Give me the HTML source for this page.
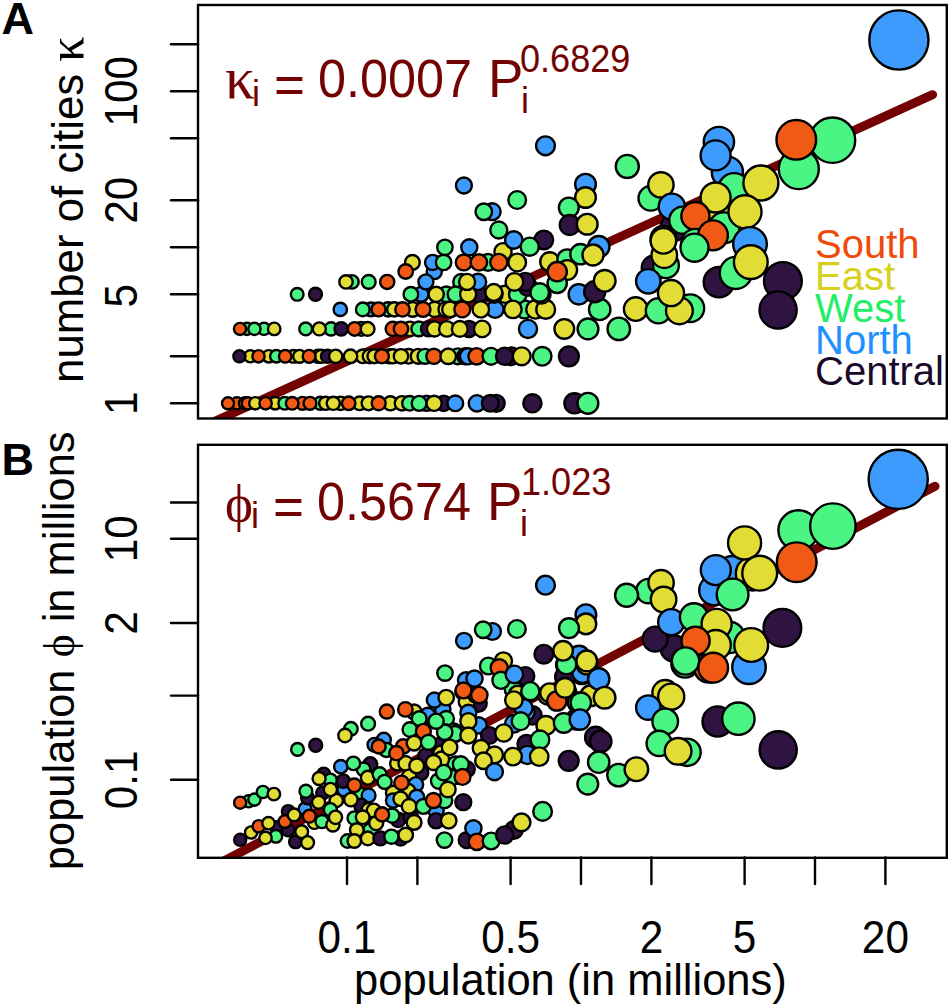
<!DOCTYPE html><html><head><meta charset="utf-8"><style>html,body{margin:0;padding:0;background:#fff;overflow:hidden}svg{display:block}svg text{font-family:"Liberation Sans",sans-serif}</style></head><body><svg width="951" height="1008" viewBox="0 0 951 1008"><text x="1.5" y="33.5" font-size="45" font-weight="bold">A</text><text x="1.5" y="474.5" font-size="45" font-weight="bold">B</text><line x1="171" y1="403.3" x2="198" y2="403.3" stroke="#000" stroke-width="2.4" stroke-linecap="round"/><line x1="171" y1="356.3" x2="198" y2="356.3" stroke="#000" stroke-width="2.4" stroke-linecap="round"/><line x1="171" y1="294.3" x2="198" y2="294.3" stroke="#000" stroke-width="2.4" stroke-linecap="round"/><line x1="171" y1="247.3" x2="198" y2="247.3" stroke="#000" stroke-width="2.4" stroke-linecap="round"/><line x1="171" y1="200.3" x2="198" y2="200.3" stroke="#000" stroke-width="2.4" stroke-linecap="round"/><line x1="171" y1="138.3" x2="198" y2="138.3" stroke="#000" stroke-width="2.4" stroke-linecap="round"/><line x1="171" y1="91.3" x2="198" y2="91.3" stroke="#000" stroke-width="2.4" stroke-linecap="round"/><line x1="171" y1="44.3" x2="198" y2="44.3" stroke="#000" stroke-width="2.4" stroke-linecap="round"/><text transform="translate(136.5,403.3) rotate(-90) scale(0.92,1)" text-anchor="middle" font-size="46">1</text><text transform="translate(136.5,295.8) rotate(-90) scale(0.92,1)" text-anchor="middle" font-size="46">5</text><text transform="translate(136.5,200.3) rotate(-90) scale(0.92,1)" text-anchor="middle" font-size="46">20</text><text transform="translate(136.5,91.3) rotate(-90) scale(0.92,1)" text-anchor="middle" font-size="46">100</text><text transform="translate(83.2,209.7) rotate(-90)" text-anchor="middle" font-size="43.8">number of cities <tspan style='font-family:&quot;Liberation Serif&quot;,serif' font-size="50">κ</tspan></text><line x1="171" y1="779.8" x2="198" y2="779.8" stroke="#000" stroke-width="2.4" stroke-linecap="round"/><line x1="171" y1="695.6" x2="198" y2="695.6" stroke="#000" stroke-width="2.4" stroke-linecap="round"/><line x1="171" y1="623.0" x2="198" y2="623.0" stroke="#000" stroke-width="2.4" stroke-linecap="round"/><line x1="171" y1="538.8" x2="198" y2="538.8" stroke="#000" stroke-width="2.4" stroke-linecap="round"/><line x1="171" y1="502.5" x2="198" y2="502.5" stroke="#000" stroke-width="2.4" stroke-linecap="round"/><text transform="translate(136.5,779.8) rotate(-90) scale(0.92,1)" text-anchor="middle" font-size="46">0.1</text><text transform="translate(136.5,623.0) rotate(-90) scale(0.92,1)" text-anchor="middle" font-size="46">2</text><text transform="translate(136.5,538.8) rotate(-90) scale(0.92,1)" text-anchor="middle" font-size="46">10</text><text transform="translate(74.4,650.8) rotate(-90)" text-anchor="middle" font-size="43.5">population <tspan style='font-family:&quot;Liberation Serif&quot;,serif'>ϕ</tspan> in millions</text><line x1="347.0" y1="857.5" x2="347.0" y2="884" stroke="#000" stroke-width="2.4" stroke-linecap="round"/><line x1="417.4" y1="857.5" x2="417.4" y2="884" stroke="#000" stroke-width="2.4" stroke-linecap="round"/><line x1="510.6" y1="857.5" x2="510.6" y2="884" stroke="#000" stroke-width="2.4" stroke-linecap="round"/><line x1="581.0" y1="857.5" x2="581.0" y2="884" stroke="#000" stroke-width="2.4" stroke-linecap="round"/><line x1="651.4" y1="857.5" x2="651.4" y2="884" stroke="#000" stroke-width="2.4" stroke-linecap="round"/><line x1="744.6" y1="857.5" x2="744.6" y2="884" stroke="#000" stroke-width="2.4" stroke-linecap="round"/><line x1="815.0" y1="857.5" x2="815.0" y2="884" stroke="#000" stroke-width="2.4" stroke-linecap="round"/><line x1="885.4" y1="857.5" x2="885.4" y2="884" stroke="#000" stroke-width="2.4" stroke-linecap="round"/><text transform="translate(347.0,952.8) scale(0.92,1)" text-anchor="middle" font-size="46">0.1</text><text transform="translate(510.6,952.8) scale(0.92,1)" text-anchor="middle" font-size="46">0.5</text><text transform="translate(651.4,952.8) scale(0.92,1)" text-anchor="middle" font-size="46">2</text><text transform="translate(744.6,952.8) scale(0.92,1)" text-anchor="middle" font-size="46">5</text><text transform="translate(885.4,952.8) scale(0.92,1)" text-anchor="middle" font-size="46">20</text><text x="570.4" y="994.8" text-anchor="middle" font-size="43.5">population (in millions)</text><clipPath id="ca"><rect x="198" y="5" width="749" height="413.5"/></clipPath><clipPath id="cb"><rect x="198" y="444.8" width="749" height="413"/></clipPath><g clip-path="url(#ca)"><line x1="205" y1="425.8" x2="932.6" y2="94.7" stroke="#730303" stroke-width="9" stroke-linecap="round"/><circle cx="236.9" cy="403.3" r="6.04" fill="#F05A14" stroke="#000" stroke-width="2.4"/><circle cx="245" cy="403.3" r="6.08" fill="#F05A14" stroke="#000" stroke-width="2.4"/><circle cx="247.8" cy="403.3" r="6.09" fill="#F05A14" stroke="#000" stroke-width="2.4"/><circle cx="255.3" cy="403.3" r="6.13" fill="#E2DD35" stroke="#000" stroke-width="2.4"/><circle cx="275.2" cy="403.3" r="6.24" fill="#E2DD35" stroke="#000" stroke-width="2.4"/><circle cx="284.7" cy="403.3" r="6.29" fill="#4AF584" stroke="#000" stroke-width="2.4"/><circle cx="302.5" cy="403.3" r="6.4" fill="#F05A14" stroke="#000" stroke-width="2.4"/><circle cx="320.3" cy="403.3" r="6.52" fill="#4AF584" stroke="#000" stroke-width="2.4"/><circle cx="325.7" cy="403.3" r="6.56" fill="#E2DD35" stroke="#000" stroke-width="2.4"/><circle cx="340.5" cy="403.3" r="6.67" fill="#E2DD35" stroke="#000" stroke-width="2.4"/><circle cx="359.6" cy="403.3" r="6.82" fill="#E2DD35" stroke="#000" stroke-width="2.4"/><circle cx="368.5" cy="403.3" r="6.9" fill="#E2DD35" stroke="#000" stroke-width="2.4"/><circle cx="390.4" cy="403.3" r="7.1" fill="#E2DD35" stroke="#000" stroke-width="2.4"/><circle cx="402" cy="403.3" r="7.22" fill="#E2DD35" stroke="#000" stroke-width="2.4"/><circle cx="409.5" cy="403.3" r="7.3" fill="#4AF584" stroke="#000" stroke-width="2.4"/><circle cx="426.6" cy="403.3" r="7.49" fill="#3D9BFD" stroke="#000" stroke-width="2.4"/><circle cx="443.7" cy="403.3" r="7.7" fill="#2F1340" stroke="#000" stroke-width="2.4"/><circle cx="496.2" cy="403.3" r="8.47" fill="#2F1340" stroke="#000" stroke-width="2.4"/><circle cx="574.4" cy="403.3" r="10.05" fill="#2F1340" stroke="#000" stroke-width="2.4"/><circle cx="250.3" cy="356.3" r="6.1" fill="#E2DD35" stroke="#000" stroke-width="2.4"/><circle cx="268.7" cy="356.3" r="6.2" fill="#E2DD35" stroke="#000" stroke-width="2.4"/><circle cx="276.3" cy="356.3" r="6.24" fill="#4AF584" stroke="#000" stroke-width="2.4"/><circle cx="293.4" cy="356.3" r="6.34" fill="#E2DD35" stroke="#000" stroke-width="2.4"/><circle cx="299.5" cy="356.3" r="6.38" fill="#E2DD35" stroke="#000" stroke-width="2.4"/><circle cx="318" cy="356.3" r="6.5" fill="#E2DD35" stroke="#000" stroke-width="2.4"/><circle cx="321.4" cy="356.3" r="6.52" fill="#E2DD35" stroke="#000" stroke-width="2.4"/><circle cx="327.5" cy="356.3" r="6.57" fill="#2F1340" stroke="#000" stroke-width="2.4"/><circle cx="362.8" cy="356.3" r="6.85" fill="#E2DD35" stroke="#000" stroke-width="2.4"/><circle cx="369.6" cy="356.3" r="6.91" fill="#E2DD35" stroke="#000" stroke-width="2.4"/><circle cx="374.4" cy="356.3" r="6.95" fill="#E2DD35" stroke="#000" stroke-width="2.4"/><circle cx="389.4" cy="356.3" r="7.09" fill="#4AF584" stroke="#000" stroke-width="2.4"/><circle cx="392.8" cy="356.3" r="7.12" fill="#E2DD35" stroke="#000" stroke-width="2.4"/><circle cx="408.6" cy="356.3" r="7.29" fill="#E2DD35" stroke="#000" stroke-width="2.4"/><circle cx="418.1" cy="356.3" r="7.39" fill="#E2DD35" stroke="#000" stroke-width="2.4"/><circle cx="425" cy="356.3" r="7.47" fill="#4AF584" stroke="#000" stroke-width="2.4"/><circle cx="457.8" cy="356.3" r="7.89" fill="#4AF584" stroke="#000" stroke-width="2.4"/><circle cx="465.3" cy="356.3" r="7.99" fill="#2F1340" stroke="#000" stroke-width="2.4"/><circle cx="468" cy="356.3" r="8.03" fill="#3D9BFD" stroke="#000" stroke-width="2.4"/><circle cx="511.5" cy="356.3" r="8.73" fill="#2F1340" stroke="#000" stroke-width="2.4"/><circle cx="246.9" cy="328.9" r="6.09" fill="#4AF584" stroke="#000" stroke-width="2.4"/><circle cx="264" cy="328.9" r="6.17" fill="#4AF584" stroke="#000" stroke-width="2.4"/><circle cx="331" cy="328.9" r="6.59" fill="#4AF584" stroke="#000" stroke-width="2.4"/><circle cx="341.2" cy="328.9" r="6.67" fill="#2F1340" stroke="#000" stroke-width="2.4"/><circle cx="361.4" cy="328.9" r="6.83" fill="#4AF584" stroke="#000" stroke-width="2.4"/><circle cx="392.8" cy="328.9" r="7.12" fill="#F05A14" stroke="#000" stroke-width="2.4"/><circle cx="410" cy="328.9" r="7.3" fill="#E2DD35" stroke="#000" stroke-width="2.4"/><circle cx="418.8" cy="328.9" r="7.4" fill="#4AF584" stroke="#000" stroke-width="2.4"/><circle cx="428.5" cy="328.9" r="7.51" fill="#2F1340" stroke="#000" stroke-width="2.4"/><circle cx="469" cy="328.9" r="8.05" fill="#2F1340" stroke="#000" stroke-width="2.4"/><circle cx="371" cy="309.4" r="6.92" fill="#3D9BFD" stroke="#000" stroke-width="2.4"/><circle cx="388.1" cy="309.4" r="7.08" fill="#4AF584" stroke="#000" stroke-width="2.4"/><circle cx="394.3" cy="309.4" r="7.14" fill="#E2DD35" stroke="#000" stroke-width="2.4"/><circle cx="412.7" cy="309.4" r="7.33" fill="#E2DD35" stroke="#000" stroke-width="2.4"/><circle cx="434.6" cy="309.4" r="7.59" fill="#E2DD35" stroke="#000" stroke-width="2.4"/><circle cx="446.2" cy="309.4" r="7.73" fill="#E2DD35" stroke="#000" stroke-width="2.4"/><circle cx="450" cy="309.4" r="7.78" fill="#E2DD35" stroke="#000" stroke-width="2.4"/><circle cx="495.1" cy="309.4" r="8.45" fill="#3D9BFD" stroke="#000" stroke-width="2.4"/><circle cx="524.5" cy="309.4" r="8.97" fill="#4AF584" stroke="#000" stroke-width="2.4"/><circle cx="535.4" cy="309.4" r="9.18" fill="#E2DD35" stroke="#000" stroke-width="2.4"/><circle cx="421" cy="294.3" r="7.43" fill="#3D9BFD" stroke="#000" stroke-width="2.4"/><circle cx="446.3" cy="294.3" r="7.73" fill="#4AF584" stroke="#000" stroke-width="2.4"/><circle cx="479.1" cy="294.3" r="8.2" fill="#2F1340" stroke="#000" stroke-width="2.4"/><circle cx="505.1" cy="294.3" r="8.62" fill="#E2DD35" stroke="#000" stroke-width="2.4"/><circle cx="517.8" cy="294.3" r="8.84" fill="#4AF584" stroke="#000" stroke-width="2.4"/><circle cx="527.9" cy="286.8" r="9.04" fill="#2F1340" stroke="#000" stroke-width="2.4"/><circle cx="351.9" cy="281.9" r="6.76" fill="#4AF584" stroke="#000" stroke-width="2.4"/><circle cx="461.2" cy="281.9" r="7.93" fill="#4AF584" stroke="#000" stroke-width="2.4"/><circle cx="478" cy="281.9" r="8.18" fill="#3D9BFD" stroke="#000" stroke-width="2.4"/><circle cx="525.3" cy="281.9" r="8.99" fill="#2F1340" stroke="#000" stroke-width="2.4"/><circle cx="434.3" cy="271.5" r="7.58" fill="#3D9BFD" stroke="#000" stroke-width="2.4"/><circle cx="412.4" cy="262.4" r="7.33" fill="#E2DD35" stroke="#000" stroke-width="2.4"/><circle cx="432.6" cy="262.4" r="7.56" fill="#3D9BFD" stroke="#000" stroke-width="2.4"/><circle cx="503" cy="251.7" r="8.58" fill="#E2DD35" stroke="#000" stroke-width="2.4"/><circle cx="488" cy="262.4" r="8.33" fill="#4AF584" stroke="#000" stroke-width="2.4"/><circle cx="228" cy="403.3" r="6.0" fill="#F05A14" stroke="#000" stroke-width="2.4"/><circle cx="265.6" cy="403.3" r="6.18" fill="#F05A14" stroke="#000" stroke-width="2.4"/><circle cx="292.2" cy="403.3" r="6.33" fill="#F05A14" stroke="#000" stroke-width="2.4"/><circle cx="310" cy="403.3" r="6.45" fill="#F05A14" stroke="#000" stroke-width="2.4"/><circle cx="333.3" cy="403.3" r="6.61" fill="#E2DD35" stroke="#000" stroke-width="2.4"/><circle cx="348.7" cy="403.3" r="6.73" fill="#F05A14" stroke="#000" stroke-width="2.4"/><circle cx="378.7" cy="403.3" r="6.99" fill="#F05A14" stroke="#000" stroke-width="2.4"/><circle cx="419.1" cy="403.3" r="7.4" fill="#4AF584" stroke="#000" stroke-width="2.4"/><circle cx="434.1" cy="403.3" r="7.58" fill="#E2DD35" stroke="#000" stroke-width="2.4"/><circle cx="455.3" cy="403.3" r="7.85" fill="#3D9BFD" stroke="#000" stroke-width="2.4"/><circle cx="476.9" cy="403.3" r="8.16" fill="#3D9BFD" stroke="#000" stroke-width="2.4"/><circle cx="490.3" cy="403.3" r="8.37" fill="#2F1340" stroke="#000" stroke-width="2.4"/><circle cx="532.4" cy="403.3" r="9.12" fill="#2F1340" stroke="#000" stroke-width="2.4"/><circle cx="587.9" cy="403.3" r="10.39" fill="#4AF584" stroke="#000" stroke-width="2.4"/><circle cx="239.4" cy="356.3" r="6.05" fill="#2F1340" stroke="#000" stroke-width="2.4"/><circle cx="258.5" cy="356.3" r="6.15" fill="#F05A14" stroke="#000" stroke-width="2.4"/><circle cx="285.2" cy="356.3" r="6.29" fill="#F05A14" stroke="#000" stroke-width="2.4"/><circle cx="309.1" cy="356.3" r="6.44" fill="#F05A14" stroke="#000" stroke-width="2.4"/><circle cx="335.7" cy="356.3" r="6.63" fill="#E2DD35" stroke="#000" stroke-width="2.4"/><circle cx="350.5" cy="356.3" r="6.74" fill="#E2DD35" stroke="#000" stroke-width="2.4"/><circle cx="381.9" cy="356.3" r="7.02" fill="#F05A14" stroke="#000" stroke-width="2.4"/><circle cx="401" cy="356.3" r="7.21" fill="#E2DD35" stroke="#000" stroke-width="2.4"/><circle cx="433.9" cy="356.3" r="7.58" fill="#F05A14" stroke="#000" stroke-width="2.4"/><circle cx="448.2" cy="356.3" r="7.76" fill="#E2DD35" stroke="#000" stroke-width="2.4"/><circle cx="476.6" cy="356.3" r="8.16" fill="#F05A14" stroke="#000" stroke-width="2.4"/><circle cx="491" cy="356.3" r="8.38" fill="#4AF584" stroke="#000" stroke-width="2.4"/><circle cx="504.6" cy="356.3" r="8.61" fill="#2F1340" stroke="#000" stroke-width="2.4"/><circle cx="521.7" cy="356.3" r="8.92" fill="#E2DD35" stroke="#000" stroke-width="2.4"/><circle cx="542.2" cy="356.3" r="9.32" fill="#4AF584" stroke="#000" stroke-width="2.4"/><circle cx="568.9" cy="356.3" r="9.91" fill="#2F1340" stroke="#000" stroke-width="2.4"/><circle cx="240" cy="328.9" r="6.05" fill="#F05A14" stroke="#000" stroke-width="2.4"/><circle cx="254.4" cy="328.9" r="6.12" fill="#4AF584" stroke="#000" stroke-width="2.4"/><circle cx="274.2" cy="328.9" r="6.23" fill="#E2DD35" stroke="#000" stroke-width="2.4"/><circle cx="305.7" cy="328.9" r="6.42" fill="#4AF584" stroke="#000" stroke-width="2.4"/><circle cx="319.3" cy="328.9" r="6.51" fill="#E2DD35" stroke="#000" stroke-width="2.4"/><circle cx="354.6" cy="328.9" r="6.78" fill="#F05A14" stroke="#000" stroke-width="2.4"/><circle cx="367.6" cy="328.9" r="6.89" fill="#E2DD35" stroke="#000" stroke-width="2.4"/><circle cx="401" cy="328.9" r="7.21" fill="#F05A14" stroke="#000" stroke-width="2.4"/><circle cx="434.5" cy="328.9" r="7.59" fill="#E2DD35" stroke="#000" stroke-width="2.4"/><circle cx="446.8" cy="328.9" r="7.74" fill="#E2DD35" stroke="#000" stroke-width="2.4"/><circle cx="459.8" cy="328.9" r="7.91" fill="#E2DD35" stroke="#000" stroke-width="2.4"/><circle cx="482.2" cy="328.9" r="8.24" fill="#E2DD35" stroke="#000" stroke-width="2.4"/><circle cx="528" cy="328.9" r="9.04" fill="#3D9BFD" stroke="#000" stroke-width="2.4"/><circle cx="564.3" cy="328.9" r="9.81" fill="#E2DD35" stroke="#000" stroke-width="2.4"/><circle cx="588" cy="328.9" r="10.39" fill="#4AF584" stroke="#000" stroke-width="2.4"/><circle cx="618.8" cy="328.9" r="11.25" fill="#4AF584" stroke="#000" stroke-width="2.4"/><circle cx="340.3" cy="309.4" r="6.66" fill="#3D9BFD" stroke="#000" stroke-width="2.4"/><circle cx="362.8" cy="309.4" r="6.85" fill="#4AF584" stroke="#000" stroke-width="2.4"/><circle cx="378.5" cy="309.4" r="6.99" fill="#F05A14" stroke="#000" stroke-width="2.4"/><circle cx="402.5" cy="309.4" r="7.22" fill="#F05A14" stroke="#000" stroke-width="2.4"/><circle cx="423" cy="309.4" r="7.45" fill="#F05A14" stroke="#000" stroke-width="2.4"/><circle cx="462.3" cy="309.4" r="7.95" fill="#F05A14" stroke="#000" stroke-width="2.4"/><circle cx="480.8" cy="309.4" r="8.22" fill="#E2DD35" stroke="#000" stroke-width="2.4"/><circle cx="512.9" cy="309.4" r="8.76" fill="#E2DD35" stroke="#000" stroke-width="2.4"/><circle cx="545.7" cy="309.4" r="9.4" fill="#E2DD35" stroke="#000" stroke-width="2.4"/><circle cx="599.7" cy="309.4" r="10.7" fill="#4AF584" stroke="#000" stroke-width="2.4"/><circle cx="297.2" cy="294.3" r="6.36" fill="#4AF584" stroke="#000" stroke-width="2.4"/><circle cx="315.5" cy="294.3" r="6.48" fill="#2F1340" stroke="#000" stroke-width="2.4"/><circle cx="410.9" cy="294.3" r="7.31" fill="#4AF584" stroke="#000" stroke-width="2.4"/><circle cx="436.2" cy="294.3" r="7.61" fill="#E2DD35" stroke="#000" stroke-width="2.4"/><circle cx="455.5" cy="294.3" r="7.86" fill="#4AF584" stroke="#000" stroke-width="2.4"/><circle cx="468.1" cy="294.3" r="8.03" fill="#E2DD35" stroke="#000" stroke-width="2.4"/><circle cx="494.2" cy="294.3" r="8.43" fill="#E2DD35" stroke="#000" stroke-width="2.4"/><circle cx="541.3" cy="294.3" r="9.3" fill="#4AF584" stroke="#000" stroke-width="2.4"/><circle cx="578.8" cy="294.3" r="10.16" fill="#3D9BFD" stroke="#000" stroke-width="2.4"/><circle cx="346" cy="281.9" r="6.71" fill="#E2DD35" stroke="#000" stroke-width="2.4"/><circle cx="368.7" cy="281.9" r="6.9" fill="#4AF584" stroke="#000" stroke-width="2.4"/><circle cx="387.2" cy="281.9" r="7.07" fill="#F05A14" stroke="#000" stroke-width="2.4"/><circle cx="425.9" cy="281.9" r="7.48" fill="#3D9BFD" stroke="#000" stroke-width="2.4"/><circle cx="467.1" cy="281.9" r="8.02" fill="#E2DD35" stroke="#000" stroke-width="2.4"/><circle cx="514.4" cy="281.9" r="8.78" fill="#E2DD35" stroke="#000" stroke-width="2.4"/><circle cx="405.7" cy="271.5" r="7.26" fill="#F05A14" stroke="#000" stroke-width="2.4"/><circle cx="443.6" cy="262.4" r="7.7" fill="#4AF584" stroke="#000" stroke-width="2.4"/><circle cx="463.8" cy="262.4" r="7.97" fill="#F05A14" stroke="#000" stroke-width="2.4"/><circle cx="478.9" cy="262.4" r="8.19" fill="#F05A14" stroke="#000" stroke-width="2.4"/><circle cx="498.8" cy="262.4" r="8.51" fill="#F05A14" stroke="#000" stroke-width="2.4"/><circle cx="545.5" cy="145.8" r="9.39" fill="#3D9BFD" stroke="#000" stroke-width="2.4"/><circle cx="585.5" cy="184.2" r="10.32" fill="#3D9BFD" stroke="#000" stroke-width="2.4"/><circle cx="585.5" cy="197.5" r="10.32" fill="#E2DD35" stroke="#000" stroke-width="2.4"/><circle cx="568.8" cy="207.5" r="9.91" fill="#4AF584" stroke="#000" stroke-width="2.4"/><circle cx="569.7" cy="225" r="9.93" fill="#2F1340" stroke="#000" stroke-width="2.4"/><circle cx="587.2" cy="224.2" r="10.37" fill="#E2DD35" stroke="#000" stroke-width="2.4"/><circle cx="517.2" cy="200" r="8.83" fill="#4AF584" stroke="#000" stroke-width="2.4"/><circle cx="492.2" cy="211.7" r="8.4" fill="#3D9BFD" stroke="#000" stroke-width="2.4"/><circle cx="483.8" cy="211.7" r="8.27" fill="#4AF584" stroke="#000" stroke-width="2.4"/><circle cx="498.8" cy="230" r="8.51" fill="#4AF584" stroke="#000" stroke-width="2.4"/><circle cx="513.8" cy="240" r="8.77" fill="#3D9BFD" stroke="#000" stroke-width="2.4"/><circle cx="543.8" cy="240" r="9.36" fill="#2F1340" stroke="#000" stroke-width="2.4"/><circle cx="529.7" cy="246.7" r="9.07" fill="#4AF584" stroke="#000" stroke-width="2.4"/><circle cx="517.2" cy="262.5" r="8.83" fill="#E2DD35" stroke="#000" stroke-width="2.4"/><circle cx="549.7" cy="261.7" r="9.48" fill="#E2DD35" stroke="#000" stroke-width="2.4"/><circle cx="567.2" cy="259.2" r="9.87" fill="#4AF584" stroke="#000" stroke-width="2.4"/><circle cx="567.2" cy="270" r="9.87" fill="#E2DD35" stroke="#000" stroke-width="2.4"/><circle cx="557.2" cy="283.3" r="9.65" fill="#4AF584" stroke="#000" stroke-width="2.4"/><circle cx="557.2" cy="271.7" r="9.65" fill="#F05A14" stroke="#000" stroke-width="2.4"/><circle cx="580.5" cy="254.2" r="10.2" fill="#4AF584" stroke="#000" stroke-width="2.4"/><circle cx="598.8" cy="246.7" r="10.68" fill="#3D9BFD" stroke="#000" stroke-width="2.4"/><circle cx="593" cy="255" r="10.52" fill="#E2DD35" stroke="#000" stroke-width="2.4"/><circle cx="594.7" cy="291.7" r="10.57" fill="#2F1340" stroke="#000" stroke-width="2.4"/><circle cx="604.7" cy="280.8" r="10.84" fill="#E2DD35" stroke="#000" stroke-width="2.4"/><circle cx="493.8" cy="292.5" r="8.43" fill="#E2DD35" stroke="#000" stroke-width="2.4"/><circle cx="539.7" cy="292.5" r="9.27" fill="#4AF584" stroke="#000" stroke-width="2.4"/><circle cx="463.9" cy="185.5" r="7.97" fill="#3D9BFD" stroke="#000" stroke-width="2.4"/><circle cx="444.9" cy="247.3" r="7.72" fill="#4AF584" stroke="#000" stroke-width="2.4"/><circle cx="469.3" cy="247.3" r="8.05" fill="#3D9BFD" stroke="#000" stroke-width="2.4"/><circle cx="627.3" cy="166.4" r="11.52" fill="#4AF584" stroke="#000" stroke-width="2.4"/><circle cx="727.4" cy="172.2" r="15.6" fill="#3D9BFD" stroke="#000" stroke-width="2.4"/><circle cx="718.9" cy="142" r="15.17" fill="#3D9BFD" stroke="#000" stroke-width="2.4"/><circle cx="715.6" cy="155.4" r="15.01" fill="#3D9BFD" stroke="#000" stroke-width="2.4"/><circle cx="650.8" cy="198.3" r="12.3" fill="#4AF584" stroke="#000" stroke-width="2.4"/><circle cx="660.9" cy="184.9" r="12.67" fill="#E2DD35" stroke="#000" stroke-width="2.4"/><circle cx="673.5" cy="227.8" r="13.16" fill="#2F1340" stroke="#000" stroke-width="2.4"/><circle cx="671.8" cy="206.7" r="13.09" fill="#3D9BFD" stroke="#000" stroke-width="2.4"/><circle cx="682.8" cy="220.2" r="13.53" fill="#4AF584" stroke="#000" stroke-width="2.4"/><circle cx="734.1" cy="189.1" r="15.95" fill="#4AF584" stroke="#000" stroke-width="2.4"/><circle cx="719" cy="214.3" r="15.18" fill="#E2DD35" stroke="#000" stroke-width="2.4"/><circle cx="724" cy="227.8" r="15.43" fill="#4AF584" stroke="#000" stroke-width="2.4"/><circle cx="715.6" cy="197.5" r="15.01" fill="#E2DD35" stroke="#000" stroke-width="2.4"/><circle cx="760.9" cy="183" r="17.48" fill="#E2DD35" stroke="#000" stroke-width="2.4"/><circle cx="745" cy="211.8" r="16.55" fill="#E2DD35" stroke="#000" stroke-width="2.4"/><circle cx="695.4" cy="216" r="14.07" fill="#F05A14" stroke="#000" stroke-width="2.4"/><circle cx="695.4" cy="242.9" r="14.07" fill="#4AF584" stroke="#000" stroke-width="2.4"/><circle cx="713" cy="235.3" r="14.88" fill="#F05A14" stroke="#000" stroke-width="2.4"/><circle cx="663.4" cy="238.7" r="12.76" fill="#E2DD35" stroke="#000" stroke-width="2.4"/><circle cx="635.7" cy="309.1" r="11.79" fill="#E2DD35" stroke="#000" stroke-width="2.4"/><circle cx="690.3" cy="308.2" r="13.85" fill="#4AF584" stroke="#000" stroke-width="2.4"/><circle cx="658.4" cy="310.8" r="12.58" fill="#4AF584" stroke="#000" stroke-width="2.4"/><circle cx="679.4" cy="310.8" r="13.39" fill="#E2DD35" stroke="#000" stroke-width="2.4"/><circle cx="671" cy="293.1" r="13.06" fill="#E2DD35" stroke="#000" stroke-width="2.4"/><circle cx="654.2" cy="267.9" r="12.43" fill="#2F1340" stroke="#000" stroke-width="2.4"/><circle cx="666" cy="265.3" r="12.86" fill="#4AF584" stroke="#000" stroke-width="2.4"/><circle cx="648.3" cy="281.3" r="12.22" fill="#3D9BFD" stroke="#000" stroke-width="2.4"/><circle cx="664.3" cy="255.2" r="12.8" fill="#E2DD35" stroke="#000" stroke-width="2.4"/><circle cx="663.4" cy="240.9" r="12.76" fill="#E2DD35" stroke="#000" stroke-width="2.4"/><circle cx="694.5" cy="247.7" r="14.03" fill="#4AF584" stroke="#000" stroke-width="2.4"/><circle cx="718.9" cy="282.2" r="15.17" fill="#2F1340" stroke="#000" stroke-width="2.4"/><circle cx="735.8" cy="272.9" r="16.04" fill="#4AF584" stroke="#000" stroke-width="2.4"/><circle cx="750" cy="244" r="16.84" fill="#3D9BFD" stroke="#000" stroke-width="2.4"/><circle cx="750.8" cy="262.1" r="16.88" fill="#E2DD35" stroke="#000" stroke-width="2.4"/><circle cx="782.9" cy="281" r="18.9" fill="#2F1340" stroke="#000" stroke-width="2.4"/><circle cx="778.1" cy="310" r="18.58" fill="#2F1340" stroke="#000" stroke-width="2.4"/><circle cx="798.8" cy="169.1" r="20.02" fill="#4AF584" stroke="#000" stroke-width="2.4"/><circle cx="832.5" cy="140.2" r="22.71" fill="#4AF584" stroke="#000" stroke-width="2.4"/><circle cx="796.3" cy="139.8" r="19.84" fill="#F05A14" stroke="#000" stroke-width="2.4"/><circle cx="898.9" cy="40" r="29.6" fill="#3D9BFD" stroke="#000" stroke-width="2.4"/></g><g clip-path="url(#cb)"><line x1="210" y1="868.3" x2="935" y2="486.3" stroke="#730303" stroke-width="9" stroke-linecap="round"/><circle cx="248.6" cy="801.3" r="6.1" fill="#4AF584" stroke="#000" stroke-width="2.4"/><circle cx="276.4" cy="827.5" r="6.24" fill="#2F1340" stroke="#000" stroke-width="2.4"/><circle cx="288.2" cy="811.4" r="6.31" fill="#2F1340" stroke="#000" stroke-width="2.4"/><circle cx="305.1" cy="808.9" r="6.41" fill="#3D9BFD" stroke="#000" stroke-width="2.4"/><circle cx="314.4" cy="822.4" r="6.48" fill="#E2DD35" stroke="#000" stroke-width="2.4"/><circle cx="322" cy="821.6" r="6.53" fill="#4AF584" stroke="#000" stroke-width="2.4"/><circle cx="307.6" cy="797.9" r="6.43" fill="#2F1340" stroke="#000" stroke-width="2.4"/><circle cx="323.7" cy="774.3" r="6.54" fill="#2F1340" stroke="#000" stroke-width="2.4"/><circle cx="330.4" cy="780.2" r="6.59" fill="#4AF584" stroke="#000" stroke-width="2.4"/><circle cx="322.8" cy="792.9" r="6.53" fill="#2F1340" stroke="#000" stroke-width="2.4"/><circle cx="332.9" cy="824.9" r="6.61" fill="#E2DD35" stroke="#000" stroke-width="2.4"/><circle cx="336.3" cy="800.5" r="6.63" fill="#E2DD35" stroke="#000" stroke-width="2.4"/><circle cx="442.8" cy="709.4" r="7.69" fill="#3D9BFD" stroke="#000" stroke-width="2.4"/><circle cx="414.1" cy="711.9" r="7.35" fill="#E2DD35" stroke="#000" stroke-width="2.4"/><circle cx="427.6" cy="715.3" r="7.5" fill="#3D9BFD" stroke="#000" stroke-width="2.4"/><circle cx="446.2" cy="718.7" r="7.73" fill="#4AF584" stroke="#000" stroke-width="2.4"/><circle cx="446.2" cy="732.2" r="7.73" fill="#4AF584" stroke="#000" stroke-width="2.4"/><circle cx="453.8" cy="731.3" r="7.83" fill="#4AF584" stroke="#000" stroke-width="2.4"/><circle cx="383.8" cy="739.8" r="7.04" fill="#3D9BFD" stroke="#000" stroke-width="2.4"/><circle cx="374.5" cy="744.8" r="6.95" fill="#3D9BFD" stroke="#000" stroke-width="2.4"/><circle cx="386.3" cy="749.9" r="7.06" fill="#4AF584" stroke="#000" stroke-width="2.4"/><circle cx="403.2" cy="746.5" r="7.23" fill="#F05A14" stroke="#000" stroke-width="2.4"/><circle cx="437.7" cy="745.7" r="7.62" fill="#2F1340" stroke="#000" stroke-width="2.4"/><circle cx="425.9" cy="755.8" r="7.48" fill="#2F1340" stroke="#000" stroke-width="2.4"/><circle cx="441.1" cy="753.2" r="7.67" fill="#E2DD35" stroke="#000" stroke-width="2.4"/><circle cx="370.3" cy="764.2" r="6.91" fill="#2F1340" stroke="#000" stroke-width="2.4"/><circle cx="363.5" cy="769.3" r="6.85" fill="#4AF584" stroke="#000" stroke-width="2.4"/><circle cx="397.3" cy="763.4" r="7.17" fill="#E2DD35" stroke="#000" stroke-width="2.4"/><circle cx="405.7" cy="763.4" r="7.26" fill="#E2DD35" stroke="#000" stroke-width="2.4"/><circle cx="420.9" cy="772.6" r="7.42" fill="#2F1340" stroke="#000" stroke-width="2.4"/><circle cx="455.5" cy="764.2" r="7.86" fill="#4AF584" stroke="#000" stroke-width="2.4"/><circle cx="409.1" cy="776.9" r="7.29" fill="#E2DD35" stroke="#000" stroke-width="2.4"/><circle cx="415.8" cy="784.5" r="7.37" fill="#3D9BFD" stroke="#000" stroke-width="2.4"/><circle cx="438.6" cy="781.1" r="7.64" fill="#4AF584" stroke="#000" stroke-width="2.4"/><circle cx="456.3" cy="776" r="7.87" fill="#F05A14" stroke="#000" stroke-width="2.4"/><circle cx="344.1" cy="789.5" r="6.69" fill="#3D9BFD" stroke="#000" stroke-width="2.4"/><circle cx="361" cy="794.6" r="6.83" fill="#4AF584" stroke="#000" stroke-width="2.4"/><circle cx="368.6" cy="795.4" r="6.9" fill="#3D9BFD" stroke="#000" stroke-width="2.4"/><circle cx="361" cy="805.5" r="6.83" fill="#2F1340" stroke="#000" stroke-width="2.4"/><circle cx="393.1" cy="792.9" r="7.13" fill="#E2DD35" stroke="#000" stroke-width="2.4"/><circle cx="408.2" cy="791.2" r="7.28" fill="#E2DD35" stroke="#000" stroke-width="2.4"/><circle cx="416.7" cy="797.1" r="7.38" fill="#3D9BFD" stroke="#000" stroke-width="2.4"/><circle cx="393.1" cy="800.5" r="7.13" fill="#3D9BFD" stroke="#000" stroke-width="2.4"/><circle cx="436.1" cy="810.6" r="7.61" fill="#3D9BFD" stroke="#000" stroke-width="2.4"/><circle cx="444.5" cy="800.5" r="7.71" fill="#4AF584" stroke="#000" stroke-width="2.4"/><circle cx="368.6" cy="809.7" r="6.9" fill="#E2DD35" stroke="#000" stroke-width="2.4"/><circle cx="373.7" cy="810.6" r="6.94" fill="#E2DD35" stroke="#000" stroke-width="2.4"/><circle cx="354.3" cy="818.2" r="6.78" fill="#4AF584" stroke="#000" stroke-width="2.4"/><circle cx="398.1" cy="819.9" r="7.18" fill="#2F1340" stroke="#000" stroke-width="2.4"/><circle cx="410.8" cy="817.3" r="7.31" fill="#2F1340" stroke="#000" stroke-width="2.4"/><circle cx="370.3" cy="830" r="6.91" fill="#4AF584" stroke="#000" stroke-width="2.4"/><circle cx="400.6" cy="838.4" r="7.2" fill="#2F1340" stroke="#000" stroke-width="2.4"/><circle cx="463.3" cy="691.7" r="7.96" fill="#F05A14" stroke="#000" stroke-width="2.4"/><circle cx="478.5" cy="703.5" r="8.19" fill="#2F1340" stroke="#000" stroke-width="2.4"/><circle cx="466.7" cy="701.8" r="8.01" fill="#E2DD35" stroke="#000" stroke-width="2.4"/><circle cx="468.4" cy="712.8" r="8.04" fill="#3D9BFD" stroke="#000" stroke-width="2.4"/><circle cx="478.5" cy="725.4" r="8.19" fill="#3D9BFD" stroke="#000" stroke-width="2.4"/><circle cx="454.9" cy="733.9" r="7.85" fill="#4AF584" stroke="#000" stroke-width="2.4"/><circle cx="444.7" cy="732.2" r="7.71" fill="#4AF584" stroke="#000" stroke-width="2.4"/><circle cx="441.4" cy="759.2" r="7.67" fill="#E2DD35" stroke="#000" stroke-width="2.4"/><circle cx="532.5" cy="715.3" r="9.13" fill="#2F1340" stroke="#000" stroke-width="2.4"/><circle cx="525.7" cy="711.9" r="8.99" fill="#3D9BFD" stroke="#000" stroke-width="2.4"/><circle cx="513.9" cy="723.7" r="8.77" fill="#3D9BFD" stroke="#000" stroke-width="2.4"/><circle cx="529.1" cy="692.5" r="9.06" fill="#4AF584" stroke="#000" stroke-width="2.4"/><circle cx="547.6" cy="695.1" r="9.44" fill="#E2DD35" stroke="#000" stroke-width="2.4"/><circle cx="566.2" cy="691.7" r="9.85" fill="#E2DD35" stroke="#000" stroke-width="2.4"/><circle cx="576.3" cy="719.5" r="10.09" fill="#3D9BFD" stroke="#000" stroke-width="2.4"/><circle cx="578" cy="702.6" r="10.14" fill="#4AF584" stroke="#000" stroke-width="2.4"/><circle cx="526.5" cy="744" r="9.01" fill="#2F1340" stroke="#000" stroke-width="2.4"/><circle cx="466.7" cy="769.3" r="8.01" fill="#2F1340" stroke="#000" stroke-width="2.4"/><circle cx="451.5" cy="777.7" r="7.8" fill="#4AF584" stroke="#000" stroke-width="2.4"/><circle cx="466.7" cy="840.1" r="8.01" fill="#2F1340" stroke="#000" stroke-width="2.4"/><circle cx="513.9" cy="830" r="8.77" fill="#2F1340" stroke="#000" stroke-width="2.4"/><circle cx="565.9" cy="665" r="9.84" fill="#4AF584" stroke="#000" stroke-width="2.4"/><circle cx="581.8" cy="673.9" r="10.23" fill="#3D9BFD" stroke="#000" stroke-width="2.4"/><circle cx="565" cy="676.9" r="9.82" fill="#2F1340" stroke="#000" stroke-width="2.4"/><circle cx="590.8" cy="695.7" r="10.46" fill="#E2DD35" stroke="#000" stroke-width="2.4"/><circle cx="595.7" cy="737.4" r="10.59" fill="#2F1340" stroke="#000" stroke-width="2.4"/><circle cx="665.2" cy="692.8" r="12.83" fill="#E2DD35" stroke="#000" stroke-width="2.4"/><circle cx="687" cy="752.3" r="13.71" fill="#4AF584" stroke="#000" stroke-width="2.4"/><circle cx="466" cy="680.3" r="8.0" fill="#3D9BFD" stroke="#000" stroke-width="2.4"/><circle cx="476.1" cy="694.6" r="8.15" fill="#F05A14" stroke="#000" stroke-width="2.4"/><circle cx="492.5" cy="631.5" r="8.41" fill="#3D9BFD" stroke="#000" stroke-width="2.4"/><circle cx="585.9" cy="614.7" r="10.33" fill="#3D9BFD" stroke="#000" stroke-width="2.4"/><circle cx="579.1" cy="655.9" r="10.16" fill="#3D9BFD" stroke="#000" stroke-width="2.4"/><circle cx="582.5" cy="672.7" r="10.25" fill="#3D9BFD" stroke="#000" stroke-width="2.4"/><circle cx="549.7" cy="692.9" r="9.48" fill="#E2DD35" stroke="#000" stroke-width="2.4"/><circle cx="503.4" cy="661" r="8.59" fill="#E2DD35" stroke="#000" stroke-width="2.4"/><circle cx="525.3" cy="676.1" r="8.99" fill="#2F1340" stroke="#000" stroke-width="2.4"/><circle cx="513.5" cy="689.5" r="8.77" fill="#4AF584" stroke="#000" stroke-width="2.4"/><circle cx="517.7" cy="694.6" r="8.84" fill="#E2DD35" stroke="#000" stroke-width="2.4"/><circle cx="523.6" cy="708" r="8.95" fill="#3D9BFD" stroke="#000" stroke-width="2.4"/><circle cx="648.5" cy="591.1" r="12.22" fill="#4AF584" stroke="#000" stroke-width="2.4"/><circle cx="673.7" cy="648.3" r="13.16" fill="#2F1340" stroke="#000" stroke-width="2.4"/><circle cx="729.2" cy="637.4" r="15.69" fill="#4AF584" stroke="#000" stroke-width="2.4"/><circle cx="732.6" cy="571.8" r="15.87" fill="#3D9BFD" stroke="#000" stroke-width="2.4"/><circle cx="714.1" cy="590.3" r="14.94" fill="#3D9BFD" stroke="#000" stroke-width="2.4"/><circle cx="752.8" cy="573.5" r="17.0" fill="#E2DD35" stroke="#000" stroke-width="2.4"/><circle cx="297.5" cy="749.4" r="6.37" fill="#4AF584" stroke="#000" stroke-width="2.4"/><circle cx="315.7" cy="745.2" r="6.49" fill="#2F1340" stroke="#000" stroke-width="2.4"/><circle cx="240.2" cy="802.7" r="6.06" fill="#F05A14" stroke="#000" stroke-width="2.4"/><circle cx="254.5" cy="799.6" r="6.13" fill="#4AF584" stroke="#000" stroke-width="2.4"/><circle cx="262.9" cy="792" r="6.17" fill="#4AF584" stroke="#000" stroke-width="2.4"/><circle cx="273.9" cy="794.1" r="6.23" fill="#E2DD35" stroke="#000" stroke-width="2.4"/><circle cx="240.2" cy="839.8" r="6.06" fill="#2F1340" stroke="#000" stroke-width="2.4"/><circle cx="251.1" cy="832.5" r="6.11" fill="#E2DD35" stroke="#000" stroke-width="2.4"/><circle cx="258.7" cy="826.3" r="6.15" fill="#F05A14" stroke="#000" stroke-width="2.4"/><circle cx="268.5" cy="823.2" r="6.2" fill="#E2DD35" stroke="#000" stroke-width="2.4"/><circle cx="275.9" cy="836.4" r="6.24" fill="#4AF584" stroke="#000" stroke-width="2.4"/><circle cx="265.5" cy="837.9" r="6.18" fill="#E2DD35" stroke="#000" stroke-width="2.4"/><circle cx="288.2" cy="830" r="6.31" fill="#2F1340" stroke="#000" stroke-width="2.4"/><circle cx="284.9" cy="821.6" r="6.29" fill="#F05A14" stroke="#000" stroke-width="2.4"/><circle cx="294.1" cy="814.8" r="6.35" fill="#E2DD35" stroke="#000" stroke-width="2.4"/><circle cx="309.3" cy="816.2" r="6.44" fill="#F05A14" stroke="#000" stroke-width="2.4"/><circle cx="295.5" cy="841.8" r="6.35" fill="#2F1340" stroke="#000" stroke-width="2.4"/><circle cx="301.7" cy="831.7" r="6.39" fill="#E2DD35" stroke="#000" stroke-width="2.4"/><circle cx="307.6" cy="842.6" r="6.43" fill="#E2DD35" stroke="#000" stroke-width="2.4"/><circle cx="305.9" cy="791.2" r="6.42" fill="#4AF584" stroke="#000" stroke-width="2.4"/><circle cx="318.6" cy="802.2" r="6.51" fill="#E2DD35" stroke="#000" stroke-width="2.4"/><circle cx="319.1" cy="778.5" r="6.51" fill="#E2DD35" stroke="#000" stroke-width="2.4"/><circle cx="330.4" cy="789.5" r="6.59" fill="#E2DD35" stroke="#000" stroke-width="2.4"/><circle cx="330.4" cy="809.7" r="6.59" fill="#4AF584" stroke="#000" stroke-width="2.4"/><circle cx="335.5" cy="817.3" r="6.63" fill="#E2DD35" stroke="#000" stroke-width="2.4"/><circle cx="434.4" cy="700.1" r="7.58" fill="#3D9BFD" stroke="#000" stroke-width="2.4"/><circle cx="446.2" cy="697.6" r="7.73" fill="#E2DD35" stroke="#000" stroke-width="2.4"/><circle cx="386.8" cy="711.6" r="7.07" fill="#F05A14" stroke="#000" stroke-width="2.4"/><circle cx="405.4" cy="709.4" r="7.25" fill="#F05A14" stroke="#000" stroke-width="2.4"/><circle cx="419.2" cy="718.7" r="7.41" fill="#4AF584" stroke="#000" stroke-width="2.4"/><circle cx="436.1" cy="721.2" r="7.61" fill="#4AF584" stroke="#000" stroke-width="2.4"/><circle cx="350.9" cy="728.8" r="6.75" fill="#4AF584" stroke="#000" stroke-width="2.4"/><circle cx="345" cy="735.5" r="6.7" fill="#E2DD35" stroke="#000" stroke-width="2.4"/><circle cx="368.1" cy="723.7" r="6.89" fill="#4AF584" stroke="#000" stroke-width="2.4"/><circle cx="409.9" cy="729.6" r="7.3" fill="#4AF584" stroke="#000" stroke-width="2.4"/><circle cx="423.4" cy="731.3" r="7.45" fill="#F05A14" stroke="#000" stroke-width="2.4"/><circle cx="378.7" cy="746.5" r="6.99" fill="#F05A14" stroke="#000" stroke-width="2.4"/><circle cx="414.1" cy="743.1" r="7.35" fill="#E2DD35" stroke="#000" stroke-width="2.4"/><circle cx="428.5" cy="742.3" r="7.51" fill="#4AF584" stroke="#000" stroke-width="2.4"/><circle cx="396.4" cy="753.2" r="7.16" fill="#F05A14" stroke="#000" stroke-width="2.4"/><circle cx="449.6" cy="747.3" r="7.78" fill="#E2DD35" stroke="#000" stroke-width="2.4"/><circle cx="340.8" cy="766.7" r="6.67" fill="#3D9BFD" stroke="#000" stroke-width="2.4"/><circle cx="353.4" cy="763.4" r="6.77" fill="#4AF584" stroke="#000" stroke-width="2.4"/><circle cx="416.7" cy="765.9" r="7.38" fill="#E2DD35" stroke="#000" stroke-width="2.4"/><circle cx="433.5" cy="762.5" r="7.57" fill="#E2DD35" stroke="#000" stroke-width="2.4"/><circle cx="343.3" cy="781.1" r="6.69" fill="#2F1340" stroke="#000" stroke-width="2.4"/><circle cx="354.3" cy="785.3" r="6.78" fill="#F05A14" stroke="#000" stroke-width="2.4"/><circle cx="367.8" cy="777.7" r="6.89" fill="#E2DD35" stroke="#000" stroke-width="2.4"/><circle cx="379.6" cy="774.3" r="7.0" fill="#4AF584" stroke="#000" stroke-width="2.4"/><circle cx="384.6" cy="781.9" r="7.04" fill="#4AF584" stroke="#000" stroke-width="2.4"/><circle cx="401.5" cy="782.8" r="7.21" fill="#F05A14" stroke="#000" stroke-width="2.4"/><circle cx="443.7" cy="772.6" r="7.7" fill="#4AF584" stroke="#000" stroke-width="2.4"/><circle cx="447.9" cy="789.5" r="7.75" fill="#E2DD35" stroke="#000" stroke-width="2.4"/><circle cx="350.9" cy="799.6" r="6.75" fill="#E2DD35" stroke="#000" stroke-width="2.4"/><circle cx="400.6" cy="798.8" r="7.2" fill="#E2DD35" stroke="#000" stroke-width="2.4"/><circle cx="409.1" cy="806.4" r="7.29" fill="#E2DD35" stroke="#000" stroke-width="2.4"/><circle cx="423.4" cy="806.4" r="7.45" fill="#4AF584" stroke="#000" stroke-width="2.4"/><circle cx="433.5" cy="800.5" r="7.57" fill="#F05A14" stroke="#000" stroke-width="2.4"/><circle cx="362.7" cy="817.3" r="6.85" fill="#E2DD35" stroke="#000" stroke-width="2.4"/><circle cx="382.1" cy="814.5" r="7.02" fill="#F05A14" stroke="#000" stroke-width="2.4"/><circle cx="392.2" cy="815.7" r="7.12" fill="#4AF584" stroke="#000" stroke-width="2.4"/><circle cx="376.2" cy="823.2" r="6.97" fill="#E2DD35" stroke="#000" stroke-width="2.4"/><circle cx="414.1" cy="822.4" r="7.35" fill="#E2DD35" stroke="#000" stroke-width="2.4"/><circle cx="436.1" cy="820.7" r="7.61" fill="#2F1340" stroke="#000" stroke-width="2.4"/><circle cx="448.7" cy="820.7" r="7.77" fill="#E2DD35" stroke="#000" stroke-width="2.4"/><circle cx="356.8" cy="830" r="6.8" fill="#E2DD35" stroke="#000" stroke-width="2.4"/><circle cx="347.5" cy="841" r="6.72" fill="#4AF584" stroke="#000" stroke-width="2.4"/><circle cx="354.3" cy="841" r="6.78" fill="#E2DD35" stroke="#000" stroke-width="2.4"/><circle cx="367.8" cy="838.4" r="6.89" fill="#E2DD35" stroke="#000" stroke-width="2.4"/><circle cx="380.4" cy="838.4" r="7.0" fill="#2F1340" stroke="#000" stroke-width="2.4"/><circle cx="391.4" cy="836.7" r="7.11" fill="#4AF584" stroke="#000" stroke-width="2.4"/><circle cx="405.7" cy="835" r="7.26" fill="#E2DD35" stroke="#000" stroke-width="2.4"/><circle cx="444.5" cy="840.1" r="7.71" fill="#4AF584" stroke="#000" stroke-width="2.4"/><circle cx="479.3" cy="695.1" r="8.2" fill="#F05A14" stroke="#000" stroke-width="2.4"/><circle cx="468.4" cy="721.2" r="8.04" fill="#E2DD35" stroke="#000" stroke-width="2.4"/><circle cx="468.4" cy="735.5" r="8.04" fill="#E2DD35" stroke="#000" stroke-width="2.4"/><circle cx="489.4" cy="735.5" r="8.36" fill="#2F1340" stroke="#000" stroke-width="2.4"/><circle cx="503.8" cy="733" r="8.6" fill="#E2DD35" stroke="#000" stroke-width="2.4"/><circle cx="520.6" cy="721.2" r="8.9" fill="#4AF584" stroke="#000" stroke-width="2.4"/><circle cx="513.9" cy="700.1" r="8.77" fill="#E2DD35" stroke="#000" stroke-width="2.4"/><circle cx="556.9" cy="701" r="9.64" fill="#F05A14" stroke="#000" stroke-width="2.4"/><circle cx="545.9" cy="725.4" r="9.4" fill="#E2DD35" stroke="#000" stroke-width="2.4"/><circle cx="563.7" cy="722.9" r="9.79" fill="#4AF584" stroke="#000" stroke-width="2.4"/><circle cx="540" cy="739.8" r="9.28" fill="#4AF584" stroke="#000" stroke-width="2.4"/><circle cx="527.4" cy="754.9" r="9.03" fill="#3D9BFD" stroke="#000" stroke-width="2.4"/><circle cx="539.2" cy="756.6" r="9.26" fill="#E2DD35" stroke="#000" stroke-width="2.4"/><circle cx="513.1" cy="756.6" r="8.76" fill="#E2DD35" stroke="#000" stroke-width="2.4"/><circle cx="568.7" cy="760.8" r="9.91" fill="#2F1340" stroke="#000" stroke-width="2.4"/><circle cx="481" cy="748.2" r="8.22" fill="#E2DD35" stroke="#000" stroke-width="2.4"/><circle cx="494.5" cy="754.9" r="8.44" fill="#E2DD35" stroke="#000" stroke-width="2.4"/><circle cx="483.5" cy="760.8" r="8.26" fill="#E2DD35" stroke="#000" stroke-width="2.4"/><circle cx="494.5" cy="771.8" r="8.44" fill="#3D9BFD" stroke="#000" stroke-width="2.4"/><circle cx="460.8" cy="764.2" r="7.93" fill="#4AF584" stroke="#000" stroke-width="2.4"/><circle cx="462.5" cy="776.9" r="7.95" fill="#F05A14" stroke="#000" stroke-width="2.4"/><circle cx="463.3" cy="802.2" r="7.96" fill="#2F1340" stroke="#000" stroke-width="2.4"/><circle cx="473.4" cy="828.3" r="8.11" fill="#3D9BFD" stroke="#000" stroke-width="2.4"/><circle cx="476.8" cy="841.8" r="8.16" fill="#F05A14" stroke="#000" stroke-width="2.4"/><circle cx="491.1" cy="841" r="8.38" fill="#4AF584" stroke="#000" stroke-width="2.4"/><circle cx="504.6" cy="835" r="8.61" fill="#2F1340" stroke="#000" stroke-width="2.4"/><circle cx="521.5" cy="822.4" r="8.91" fill="#E2DD35" stroke="#000" stroke-width="2.4"/><circle cx="542.6" cy="811.4" r="9.33" fill="#4AF584" stroke="#000" stroke-width="2.4"/><circle cx="586.8" cy="664" r="10.36" fill="#E2DD35" stroke="#000" stroke-width="2.4"/><circle cx="598.7" cy="678.9" r="10.68" fill="#3D9BFD" stroke="#000" stroke-width="2.4"/><circle cx="565" cy="687.8" r="9.82" fill="#E2DD35" stroke="#000" stroke-width="2.4"/><circle cx="580.8" cy="702.7" r="10.21" fill="#4AF584" stroke="#000" stroke-width="2.4"/><circle cx="604.6" cy="697.7" r="10.84" fill="#E2DD35" stroke="#000" stroke-width="2.4"/><circle cx="579.8" cy="719.6" r="10.18" fill="#3D9BFD" stroke="#000" stroke-width="2.4"/><circle cx="600.7" cy="741.4" r="10.73" fill="#2F1340" stroke="#000" stroke-width="2.4"/><circle cx="598.7" cy="762.2" r="10.68" fill="#4AF584" stroke="#000" stroke-width="2.4"/><circle cx="587.8" cy="784.1" r="10.38" fill="#4AF584" stroke="#000" stroke-width="2.4"/><circle cx="618.5" cy="775.1" r="11.25" fill="#4AF584" stroke="#000" stroke-width="2.4"/><circle cx="636.4" cy="769.2" r="11.81" fill="#E2DD35" stroke="#000" stroke-width="2.4"/><circle cx="685" cy="664" r="13.62" fill="#4AF584" stroke="#000" stroke-width="2.4"/><circle cx="708.9" cy="667.9" r="14.69" fill="#F05A14" stroke="#000" stroke-width="2.4"/><circle cx="671.2" cy="696.7" r="13.06" fill="#E2DD35" stroke="#000" stroke-width="2.4"/><circle cx="648.3" cy="707.6" r="12.22" fill="#3D9BFD" stroke="#000" stroke-width="2.4"/><circle cx="665.2" cy="721.5" r="12.83" fill="#4AF584" stroke="#000" stroke-width="2.4"/><circle cx="659.2" cy="743.4" r="12.61" fill="#4AF584" stroke="#000" stroke-width="2.4"/><circle cx="678.1" cy="751.3" r="13.34" fill="#E2DD35" stroke="#000" stroke-width="2.4"/><circle cx="717.6" cy="721.5" r="15.11" fill="#2F1340" stroke="#000" stroke-width="2.4"/><circle cx="738.4" cy="718.7" r="16.19" fill="#4AF584" stroke="#000" stroke-width="2.4"/><circle cx="778.2" cy="749.9" r="18.58" fill="#2F1340" stroke="#000" stroke-width="2.4"/><circle cx="464" cy="640.8" r="7.97" fill="#3D9BFD" stroke="#000" stroke-width="2.4"/><circle cx="445" cy="673.1" r="7.72" fill="#4AF584" stroke="#000" stroke-width="2.4"/><circle cx="474.5" cy="678.6" r="8.13" fill="#3D9BFD" stroke="#000" stroke-width="2.4"/><circle cx="463.5" cy="690.4" r="7.97" fill="#F05A14" stroke="#000" stroke-width="2.4"/><circle cx="545.5" cy="585.2" r="9.39" fill="#3D9BFD" stroke="#000" stroke-width="2.4"/><circle cx="483.2" cy="629.8" r="8.26" fill="#4AF584" stroke="#000" stroke-width="2.4"/><circle cx="516.9" cy="629" r="8.83" fill="#4AF584" stroke="#000" stroke-width="2.4"/><circle cx="585.9" cy="623.9" r="10.33" fill="#E2DD35" stroke="#000" stroke-width="2.4"/><circle cx="569" cy="628.1" r="9.92" fill="#4AF584" stroke="#000" stroke-width="2.4"/><circle cx="543.8" cy="654.2" r="9.36" fill="#2F1340" stroke="#000" stroke-width="2.4"/><circle cx="566.5" cy="664.3" r="9.86" fill="#4AF584" stroke="#000" stroke-width="2.4"/><circle cx="563.1" cy="650.8" r="9.78" fill="#E2DD35" stroke="#000" stroke-width="2.4"/><circle cx="586.7" cy="660.9" r="10.36" fill="#E2DD35" stroke="#000" stroke-width="2.4"/><circle cx="488.3" cy="666" r="8.34" fill="#4AF584" stroke="#000" stroke-width="2.4"/><circle cx="499.2" cy="667.7" r="8.52" fill="#F05A14" stroke="#000" stroke-width="2.4"/><circle cx="500.9" cy="680.3" r="8.55" fill="#4AF584" stroke="#000" stroke-width="2.4"/><circle cx="514.4" cy="674.4" r="8.78" fill="#3D9BFD" stroke="#000" stroke-width="2.4"/><circle cx="530.3" cy="691.2" r="9.08" fill="#4AF584" stroke="#000" stroke-width="2.4"/><circle cx="626.6" cy="595.3" r="11.5" fill="#4AF584" stroke="#000" stroke-width="2.4"/><circle cx="661.1" cy="582.7" r="12.68" fill="#E2DD35" stroke="#000" stroke-width="2.4"/><circle cx="663.6" cy="599.5" r="12.77" fill="#E2DD35" stroke="#000" stroke-width="2.4"/><circle cx="655.2" cy="639.1" r="12.46" fill="#2F1340" stroke="#000" stroke-width="2.4"/><circle cx="671.2" cy="622.2" r="13.06" fill="#3D9BFD" stroke="#000" stroke-width="2.4"/><circle cx="693.9" cy="617.2" r="14.01" fill="#4AF584" stroke="#000" stroke-width="2.4"/><circle cx="716.6" cy="623.9" r="15.06" fill="#E2DD35" stroke="#000" stroke-width="2.4"/><circle cx="715.8" cy="645" r="15.02" fill="#E2DD35" stroke="#000" stroke-width="2.4"/><circle cx="695.6" cy="640.8" r="14.08" fill="#F05A14" stroke="#000" stroke-width="2.4"/><circle cx="685.5" cy="661" r="13.65" fill="#4AF584" stroke="#000" stroke-width="2.4"/><circle cx="713.2" cy="667.7" r="14.89" fill="#F05A14" stroke="#000" stroke-width="2.4"/><circle cx="749" cy="667.2" r="16.78" fill="#3D9BFD" stroke="#000" stroke-width="2.4"/><circle cx="751.2" cy="645" r="16.91" fill="#E2DD35" stroke="#000" stroke-width="2.4"/><circle cx="715.8" cy="570.1" r="15.02" fill="#3D9BFD" stroke="#000" stroke-width="2.4"/><circle cx="732.6" cy="594.5" r="15.87" fill="#4AF584" stroke="#000" stroke-width="2.4"/><circle cx="744.6" cy="542.9" r="16.53" fill="#E2DD35" stroke="#000" stroke-width="2.4"/><circle cx="759.7" cy="573.2" r="17.41" fill="#E2DD35" stroke="#000" stroke-width="2.4"/><circle cx="798.4" cy="530.3" r="19.99" fill="#4AF584" stroke="#000" stroke-width="2.4"/><circle cx="832.9" cy="526.1" r="22.75" fill="#4AF584" stroke="#000" stroke-width="2.4"/><circle cx="796.7" cy="562.2" r="19.87" fill="#F05A14" stroke="#000" stroke-width="2.4"/><circle cx="782.4" cy="627.9" r="18.86" fill="#2F1340" stroke="#000" stroke-width="2.4"/><circle cx="898.2" cy="479.3" r="29.6" fill="#3D9BFD" stroke="#000" stroke-width="2.4"/><circle cx="382.1" cy="814.5" r="7.02" fill="#F05A14" stroke="#000" stroke-width="2.4"/></g><rect x="198" y="5" width="748.8" height="413.5" fill="none" stroke="#000" stroke-width="2.4"/><rect x="198" y="444.8" width="748.8" height="413" fill="none" stroke="#000" stroke-width="2.4"/><g fill="#730303"><text x="225" y="97.5" font-size="59" style='font-family:&quot;Liberation Serif&quot;,serif'>κ</text><text x="252" y="105.9" font-size="36">i</text><text x="274" y="103" font-size="53">=</text><text transform="translate(318,97.3) scale(0.95,1)" font-size="53">0.0007</text><text x="488" y="97.3" font-size="53">P</text><text transform="translate(520,72.4) scale(0.95,1)" font-size="38">0.6829</text><text x="521" y="113.4" font-size="36">i</text><text x="225" y="520.5" font-size="53" style='font-family:&quot;Liberation Serif&quot;,serif'>ϕ</text><text x="251" y="528.1" font-size="36">i</text><text x="273" y="525" font-size="53">=</text><text transform="translate(317,519.6) scale(0.95,1)" font-size="53">0.5674</text><text x="487" y="519.6" font-size="53">P</text><text transform="translate(521,495) scale(0.95,1)" font-size="38">1.023</text><text x="520" y="535.7" font-size="36">i</text></g><text x="815" y="258.4" font-size="40" fill="#F04A0A">South</text><text x="815" y="290.1" font-size="40" fill="#D8D020">East</text><text x="815" y="321.8" font-size="40" fill="#22EE66">West</text><text x="815" y="353.5" font-size="40" fill="#1E90FF">North</text><text x="815" y="385.2" font-size="40" fill="#1A0A2A">Central</text></svg></body></html>
